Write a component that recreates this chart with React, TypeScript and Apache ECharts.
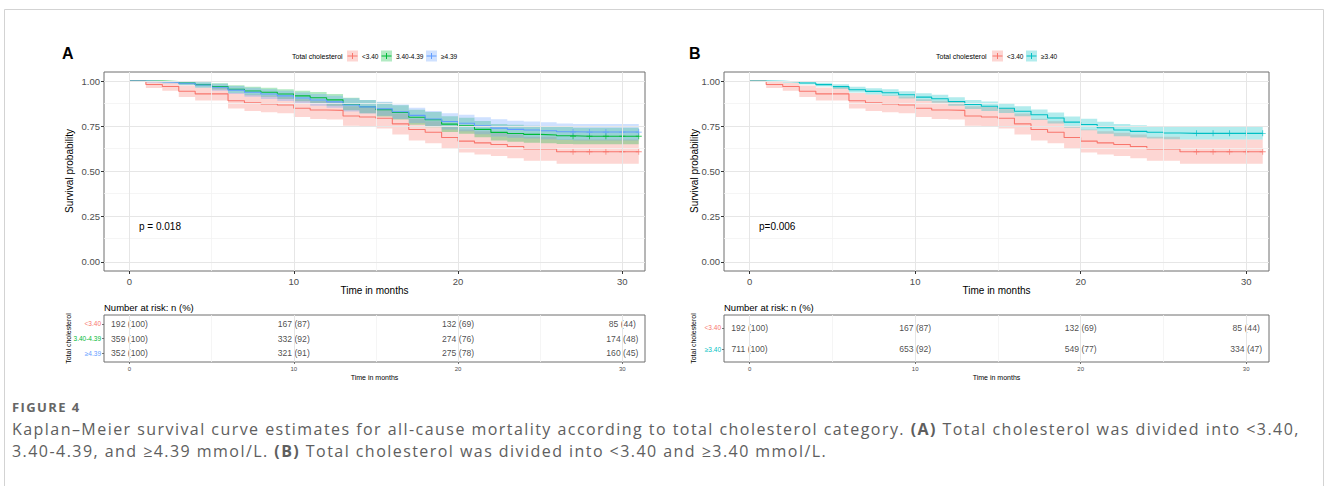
import React, { useEffect, useRef } from "react";
import * as echarts from "echarts";

// ---------- data ----------
const months = [0, 1, 2, 3, 4, 5, 6, 7, 8, 9, 10, 11, 12, 13, 14, 15, 16, 17, 18, 19, 20, 21, 22, 23, 24, 25, 26, 27, 28, 29, 30, 31];

// <3.40 (same group in both panels)
const lowS = [1.0, 0.981, 0.97, 0.944, 0.929, 0.929, 0.891, 0.88, 0.874, 0.868, 0.85, 0.84, 0.838, 0.807, 0.801, 0.794, 0.763, 0.732, 0.717, 0.688, 0.668, 0.658, 0.649, 0.638, 0.625, 0.625, 0.609, 0.609, 0.609, 0.609, 0.609, 0.609];
const lowHi = [1.0, 0.995, 0.99, 0.975, 0.964, 0.964, 0.934, 0.925, 0.92, 0.915, 0.899, 0.891, 0.889, 0.861, 0.856, 0.85, 0.821, 0.792, 0.778, 0.751, 0.732, 0.723, 0.714, 0.704, 0.692, 0.692, 0.677, 0.677, 0.677, 0.677, 0.677, 0.677];
const lowLo = [1.0, 0.962, 0.946, 0.912, 0.893, 0.893, 0.848, 0.835, 0.828, 0.822, 0.801, 0.79, 0.787, 0.753, 0.746, 0.738, 0.704, 0.672, 0.656, 0.626, 0.605, 0.594, 0.585, 0.573, 0.56, 0.56, 0.543, 0.543, 0.543, 0.543, 0.543, 0.543];

// 3.40-4.39
const midS = [1.0, 1.0, 0.997, 0.989, 0.98, 0.97, 0.955, 0.945, 0.938, 0.928, 0.918, 0.908, 0.896, 0.872, 0.858, 0.842, 0.826, 0.8, 0.786, 0.762, 0.752, 0.733, 0.716, 0.71, 0.705, 0.702, 0.698, 0.695, 0.695, 0.695, 0.695, 0.695];
const midHi = [1.0, 1.0, 1.0, 1.0, 0.994, 0.988, 0.977, 0.969, 0.963, 0.955, 0.947, 0.939, 0.929, 0.907, 0.895, 0.881, 0.866, 0.842, 0.829, 0.806, 0.797, 0.779, 0.763, 0.758, 0.753, 0.75, 0.746, 0.742, 0.742, 0.742, 0.742, 0.742];
const midLo = [1.0, 1.0, 0.991, 0.978, 0.965, 0.953, 0.934, 0.921, 0.913, 0.901, 0.889, 0.878, 0.864, 0.838, 0.822, 0.804, 0.787, 0.759, 0.744, 0.719, 0.708, 0.689, 0.671, 0.664, 0.659, 0.656, 0.652, 0.65, 0.65, 0.65, 0.65, 0.65];

// >=4.39
const highS = [1.0, 0.997, 0.994, 0.988, 0.978, 0.966, 0.95, 0.938, 0.928, 0.918, 0.906, 0.895, 0.885, 0.868, 0.857, 0.846, 0.83, 0.81, 0.79, 0.776, 0.767, 0.752, 0.74, 0.733, 0.729, 0.725, 0.72, 0.718, 0.718, 0.718, 0.718, 0.718];
const highHi = [1.0, 1.0, 1.0, 1.0, 0.993, 0.985, 0.973, 0.963, 0.955, 0.947, 0.937, 0.928, 0.919, 0.905, 0.895, 0.885, 0.871, 0.853, 0.835, 0.822, 0.814, 0.8, 0.789, 0.781, 0.776, 0.772, 0.766, 0.762, 0.762, 0.762, 0.762, 0.762];
const highLo = [1.0, 0.991, 0.986, 0.977, 0.963, 0.947, 0.928, 0.913, 0.901, 0.89, 0.876, 0.863, 0.852, 0.832, 0.82, 0.808, 0.79, 0.768, 0.747, 0.732, 0.722, 0.706, 0.694, 0.686, 0.682, 0.678, 0.674, 0.672, 0.672, 0.672, 0.672, 0.672];

// >=3.40
const geS = [1.0, 0.999, 0.996, 0.989, 0.98, 0.969, 0.952, 0.943, 0.935, 0.924, 0.911, 0.902, 0.887, 0.87, 0.861, 0.85, 0.833, 0.814, 0.796, 0.773, 0.76, 0.742, 0.729, 0.722, 0.717, 0.713, 0.711, 0.711, 0.711, 0.711, 0.711, 0.711];
const geHi = [1.0, 1.0, 1.0, 0.997, 0.99, 0.982, 0.968, 0.96, 0.954, 0.944, 0.932, 0.924, 0.91, 0.895, 0.887, 0.877, 0.861, 0.843, 0.826, 0.804, 0.792, 0.775, 0.763, 0.756, 0.751, 0.748, 0.746, 0.746, 0.746, 0.746, 0.746, 0.746];
const geLo = [1.0, 0.997, 0.991, 0.981, 0.97, 0.956, 0.936, 0.926, 0.917, 0.904, 0.89, 0.88, 0.864, 0.845, 0.835, 0.823, 0.805, 0.785, 0.766, 0.742, 0.728, 0.709, 0.695, 0.688, 0.683, 0.678, 0.677, 0.677, 0.677, 0.677, 0.677, 0.677];

const censorMonths = [27, 28, 29, 30, 31];

const riskTimes = [0, 10, 20, 30];
const riskLowN = [192, 167, 132, 85];
const riskLowPct = [100, 87, 69, 44];
const riskMidN = [359, 332, 274, 174];
const riskMidPct = [100, 92, 76, 48];
const riskHighN = [352, 321, 275, 160];
const riskHighPct = [100, 91, 78, 45];
const riskGeN = [711, 653, 549, 334];
const riskGePct = [100, 92, 77, 47];

const groupNamesA = ["<3.40", "3.40-4.39", "\u22654.39"];
const groupNamesB = ["<3.40", "\u22653.40"];

const xTicks = [0, 10, 20, 30];
const xMinor = [5, 15, 25];
const yTicks = [0, 0.25, 0.5, 0.75, 1];
const yMinor = [0.125, 0.375, 0.625, 0.875];

const pTextA = "p = 0.018";
const pTextB = "p=0.006";

const captionLabel = "FIGURE 4";
const captionLine1a = "Kaplan\u2013Meier survival curve estimates for all-cause mortality according to total cholesterol category. ";
const captionLine1b = " Total cholesterol was divided into <3.40,";
const captionLine2a = "3.40-4.39, and \u22654.39 mmol/L. ";
const captionLine2b = " Total cholesterol was divided into <3.40 and \u22653.40 mmol/L.";

// ---------- style ----------
const FONT = "'Liberation Sans', Arial, Helvetica, sans-serif";
const CAP_FONT = "'Open Sans', 'Noto Sans', sans-serif";
const RED = "#F8766D";
const GREEN = "#00BA38";
const BLUE = "#619CFF";
const TEAL = "#00BFC4";
const X_MIN = -1.55;
const X_MAX = 31.38;
const PLOT_TOP = 72;
const PLOT_H = 199;
const RISK_TOP = 315;
const RISK_H = 47;
const PANEL_A = { left: 104, width: 541 };
const PANEL_B = { left: 724, width: 545 };
const PLUS = "path://M4.3,0H5.7V4.3H10V5.7H5.7V10H4.3V5.7H0V4.3H4.3Z";

function rgba(hex: string, a: number) {
  const n = parseInt(hex.slice(1), 16);
  return `rgba(${(n >> 16) & 255},${(n >> 8) & 255},${n & 255},${a})`;
}

function gridLineSeries(xi: number, vMajor: number[], vMinor: number[], hMajor: number[], hMinor: number[]) {
  const major = { color: "#e6e6e6", width: 1, type: "solid" };
  const minor = { color: "#f3f3f3", width: 0.8, type: "solid" };
  return {
    type: "line",
    xAxisIndex: xi,
    yAxisIndex: xi,
    data: [[-100, -100]],
    symbol: "none",
    silent: true,
    z: 1,
    markLine: {
      silent: true,
      animation: false,
      symbol: ["none", "none"],
      label: { show: false },
      data: [
        ...vMinor.map((v) => ({ xAxis: v, lineStyle: minor })),
        ...hMinor.map((v) => ({ yAxis: v, lineStyle: minor })),
        ...vMajor.map((v) => ({ xAxis: v, lineStyle: major })),
        ...hMajor.map((v) => ({ yAxis: v, lineStyle: major })),
      ],
    },
  };
}

// confidence band: one stepped polygon drawn through the axis scales
function bandSeries(xi: number, color: string, lo: number[], hi: number[]) {
  return {
    type: "custom",
    xAxisIndex: xi,
    yAxisIndex: xi,
    silent: true,
    z: 2,
    data: [[months[0], hi[0]]],
    encode: { x: 0, y: 1 },
    renderItem: (_params: any, api: any) => {
      const n = months.length;
      const pts: number[][] = [];
      for (let i = 0; i < n; i++) {
        const t0 = months[i];
        const t1 = i < n - 1 ? months[i + 1] : months[i];
        pts.push(api.coord([t0, hi[i]]), api.coord([t1, hi[i]]));
      }
      for (let i = n - 1; i >= 0; i--) {
        const t0 = months[i];
        const t1 = i < n - 1 ? months[i + 1] : months[i];
        pts.push(api.coord([t1, lo[i]]), api.coord([t0, lo[i]]));
      }
      return {
        type: "polygon",
        shape: { points: pts },
        style: { fill: rgba(color, 0.3), stroke: "none" },
      };
    },
  };
}

function curveSeries(xi: number, color: string, s: number[]) {
  return [
    {
      type: "line",
      xAxisIndex: xi,
      yAxisIndex: xi,
      step: "end",
      symbol: "none",
      silent: true,
      z: 3,
      lineStyle: { color, width: 1.1 },
      data: months.map((t, i) => [t, s[i]]),
    },
    {
      type: "scatter",
      xAxisIndex: xi,
      yAxisIndex: xi,
      symbol: PLUS,
      symbolSize: 6,
      silent: true,
      z: 4,
      itemStyle: { color },
      data: censorMonths.map((t) => [t, s[months.indexOf(t)]]),
    },
  ];
}

function riskSeries(xi: number, rows: { n: number[]; p: number[] }[]) {
  const data: any[] = [];
  rows.forEach((r, ri) => {
    riskTimes.forEach((t, ti) => {
      data.push([t, ri + 1, `${r.n[ti]} (${r.p[ti]})`]);
    });
  });
  return {
    type: "scatter",
    xAxisIndex: xi,
    yAxisIndex: xi,
    symbolSize: 0,
    silent: true,
    z: 4,
    itemStyle: { color: "transparent" },
    label: {
      show: true,
      position: "inside",
      formatter: (p: any) => p.value[2],
      color: "#1a1a1a",
      fontSize: 8.6,
      fontFamily: FONT,
      textBorderWidth: 0,
      textBorderColor: "transparent",
      textShadowBlur: 0,
    },
    data,
  };
}

function plotX(gi: number) {
  return {
    type: "value",
    gridIndex: gi,
    min: X_MIN,
    max: X_MAX,
    axisLine: { show: false, onZero: false },
    splitLine: { show: false },
    axisTick: { show: true, customValues: xTicks, length: 3, lineStyle: { color: "#333", width: 1 } },
    axisLabel: { customValues: xTicks, color: "#4d4d4d", fontSize: 9.5, margin: 5, fontFamily: FONT },
  };
}
function plotY(gi: number) {
  return {
    type: "value",
    gridIndex: gi,
    min: -0.05,
    max: 1.05,
    axisLine: { show: false, onZero: false },
    splitLine: { show: false },
    axisTick: { show: true, customValues: yTicks, length: 3, lineStyle: { color: "#333", width: 1 } },
    axisLabel: {
      customValues: yTicks,
      formatter: (v: any) => Number(v).toFixed(2),
      color: "#4d4d4d",
      fontSize: 9.5,
      margin: 4,
      fontFamily: FONT,
    },
  };
}
function riskX(gi: number) {
  return {
    type: "value",
    gridIndex: gi,
    min: X_MIN,
    max: X_MAX,
    axisLine: { show: false, onZero: false },
    splitLine: { show: false },
    axisTick: { show: true, customValues: xTicks, length: 2, lineStyle: { color: "#555", width: 0.8 } },
    axisLabel: { customValues: xTicks, color: "#4d4d4d", fontSize: 6, margin: 4, fontFamily: FONT },
  };
}
function riskY(gi: number, names: string[], colors: string[]) {
  const vals = names.map((_, i) => i + 1);
  const rich: any = {};
  colors.forEach((c, i) => {
    rich["r" + (i + 1)] = { color: c, fontSize: 6.5, fontFamily: FONT };
  });
  return {
    type: "value",
    gridIndex: gi,
    min: 0.4,
    max: names.length + 0.6,
    inverse: true,
    axisLine: { show: false, onZero: false },
    splitLine: { show: false },
    axisTick: { show: true, customValues: vals, length: 2, lineStyle: { color: "#555", width: 0.8 } },
    axisLabel: {
      customValues: vals,
      margin: 3,
      formatter: (v: any) => {
        const k = Math.round(Number(v));
        return `{r${k}|${names[k - 1]}}`;
      },
      rich,
    },
  };
}

function txt(text: string, x: number, y: number, size: number, extra: any = {}, styleExtra: any = {}) {
  return {
    type: "text",
    x,
    y,
    silent: true,
    ...extra,
    style: {
      text,
      fontSize: size,
      fontFamily: FONT,
      fill: "#000",
      align: "left",
      verticalAlign: "middle",
      textAlign: "left",
      textVerticalAlign: "middle",
      ...styleExtra,
    },
  };
}

function legendKey(x: number, y: number, color: string) {
  return {
    type: "group",
    x,
    y,
    silent: true,
    children: [
      { type: "rect", shape: { x: 0, y: 0, width: 11, height: 11 }, style: { fill: rgba(color, 0.3) } },
      { type: "line", shape: { x1: 0.5, y1: 5.5, x2: 10.5, y2: 5.5 }, style: { stroke: color, lineWidth: 1 } },
      { type: "line", shape: { x1: 5.5, y1: 2.5, x2: 5.5, y2: 8.5 }, style: { stroke: color, lineWidth: 1 } },
    ],
  };
}

function buildOption() {
  const grids = [
    { left: PANEL_A.left, top: PLOT_TOP, width: PANEL_A.width, height: PLOT_H },
    { left: PANEL_A.left, top: RISK_TOP, width: PANEL_A.width, height: RISK_H },
    { left: PANEL_B.left, top: PLOT_TOP, width: PANEL_B.width, height: PLOT_H },
    { left: PANEL_B.left, top: RISK_TOP, width: PANEL_B.width, height: RISK_H },
  ].map((g) => ({ ...g, show: true, borderColor: "#6e6e6e", borderWidth: 1, backgroundColor: "#fff", containLabel: false }));

  const xAxis = [plotX(0), riskX(1), plotX(2), riskX(3)];
  const yAxis = [
    plotY(0),
    riskY(1, groupNamesA, [RED, GREEN, BLUE]),
    plotY(2),
    riskY(3, groupNamesB, [RED, TEAL]),
  ];

  const series: any[] = [
    gridLineSeries(0, xTicks, xMinor, yTicks, yMinor),
    gridLineSeries(1, xTicks, xMinor, [], []),
    gridLineSeries(2, xTicks, xMinor, yTicks, yMinor),
    gridLineSeries(3, xTicks, xMinor, [], []),
    bandSeries(0, RED, lowLo, lowHi),
    bandSeries(0, GREEN, midLo, midHi),
    bandSeries(0, BLUE, highLo, highHi),
    ...curveSeries(0, RED, lowS),
    ...curveSeries(0, GREEN, midS),
    ...curveSeries(0, BLUE, highS),
    bandSeries(2, RED, lowLo, lowHi),
    bandSeries(2, TEAL, geLo, geHi),
    ...curveSeries(2, RED, lowS),
    ...curveSeries(2, TEAL, geS),
    riskSeries(1, [
      { n: riskLowN, p: riskLowPct },
      { n: riskMidN, p: riskMidPct },
      { n: riskHighN, p: riskHighPct },
    ]),
    riskSeries(3, [
      { n: riskLowN, p: riskLowPct },
      { n: riskGeN, p: riskGePct },
    ]),
  ];

  const centerA = PANEL_A.left + PANEL_A.width / 2;
  const centerB = PANEL_B.left + PANEL_B.width / 2;
  const rot = { rotation: Math.PI / 2 };
  const mid = { align: "center", textAlign: "center" };

  const graphic: any[] = [
    {
      type: "rect",
      silent: true,
      shape: { x: 4.5, y: 9.5, width: 1319, height: 500 },
      style: { fill: "none", stroke: "#d3d3d3", lineWidth: 1 },
    },
    txt("A", 62, 53, 16, {}, { fontWeight: "bold" }),
    txt("B", 689, 53, 16, {}, { fontWeight: "bold" }),
    // legend A
    txt("Total cholesterol", 292, 56, 7),
    legendKey(347, 50.5, RED),
    txt(groupNamesA[0], 362, 56, 6.5),
    legendKey(381, 50.5, GREEN),
    txt(groupNamesA[1], 396, 56, 6.5),
    legendKey(426, 50.5, BLUE),
    txt(groupNamesA[2], 441, 56, 6.5),
    // legend B
    txt("Total cholesterol", 936, 56, 7),
    legendKey(992, 50.5, RED),
    txt(groupNamesB[0], 1007, 56, 6.5),
    legendKey(1026, 50.5, TEAL),
    txt(groupNamesB[1], 1041, 56, 6.5),
    // axis titles
    txt("Survival probability", 69, 171, 10, rot, mid),
    txt("Survival probability", 694, 171, 10, rot, mid),
    txt("Time in months", centerA, 290, 10, {}, mid),
    txt("Time in months", centerB, 290, 10, {}, mid),
    txt(pTextA, 139, 226.5, 10),
    txt(pTextB, 759, 226.5, 10),
    // risk tables
    txt("Number at risk: n (%)", 104, 307, 9.5),
    txt("Number at risk: n (%)", 724, 307, 9.5),
    txt("Total cholesterol", 68.5, 338.5, 7, rot, mid),
    txt("Total cholesterol", 693, 338.5, 7, rot, mid),
    txt("Time in months", centerA, 377.5, 7, {}, mid),
    txt("Time in months", centerB, 377.5, 7, {}, mid),
  ];

  return {
    animation: false,
    backgroundColor: "#fff",
    grid: grids,
    xAxis,
    yAxis,
    series,
    graphic,
  };
}

const capBase: React.CSSProperties = {
  position: "absolute",
  left: 12,
  whiteSpace: "nowrap",
  fontFamily: CAP_FONT,
  color: "#5e5e5e",
  margin: 0,
};

export default function App() {
  const ref = useRef<HTMLDivElement>(null);
  useEffect(() => {
    document.body.style.margin = "0";
    if (!ref.current) return;
    const chart = echarts.init(ref.current, null, { renderer: "svg" });
    chart.setOption(buildOption() as any);
    return () => chart.dispose();
  }, []);
  return (
    <div style={{ position: "relative", width: 1328, height: 486, overflow: "hidden" }}>
      <div ref={ref} style={{ width: 1328, height: 486 }} />
      <div
        style={{
          ...capBase,
          top: 398,
          fontSize: 13,
          lineHeight: "18px",
          fontWeight: 700,
          letterSpacing: "1.4px",
          color: "#666",
        }}
      >
        {captionLabel}
      </div>
      <div style={{ ...capBase, top: 418, fontSize: 16, lineHeight: "22px", letterSpacing: "1.45px" }}>
        <div>
          {captionLine1a}
          <b>(A)</b>
          {captionLine1b}
        </div>
        <div>
          {captionLine2a}
          <b>(B)</b>
          {captionLine2b}
        </div>
      </div>
    </div>
  );
}
